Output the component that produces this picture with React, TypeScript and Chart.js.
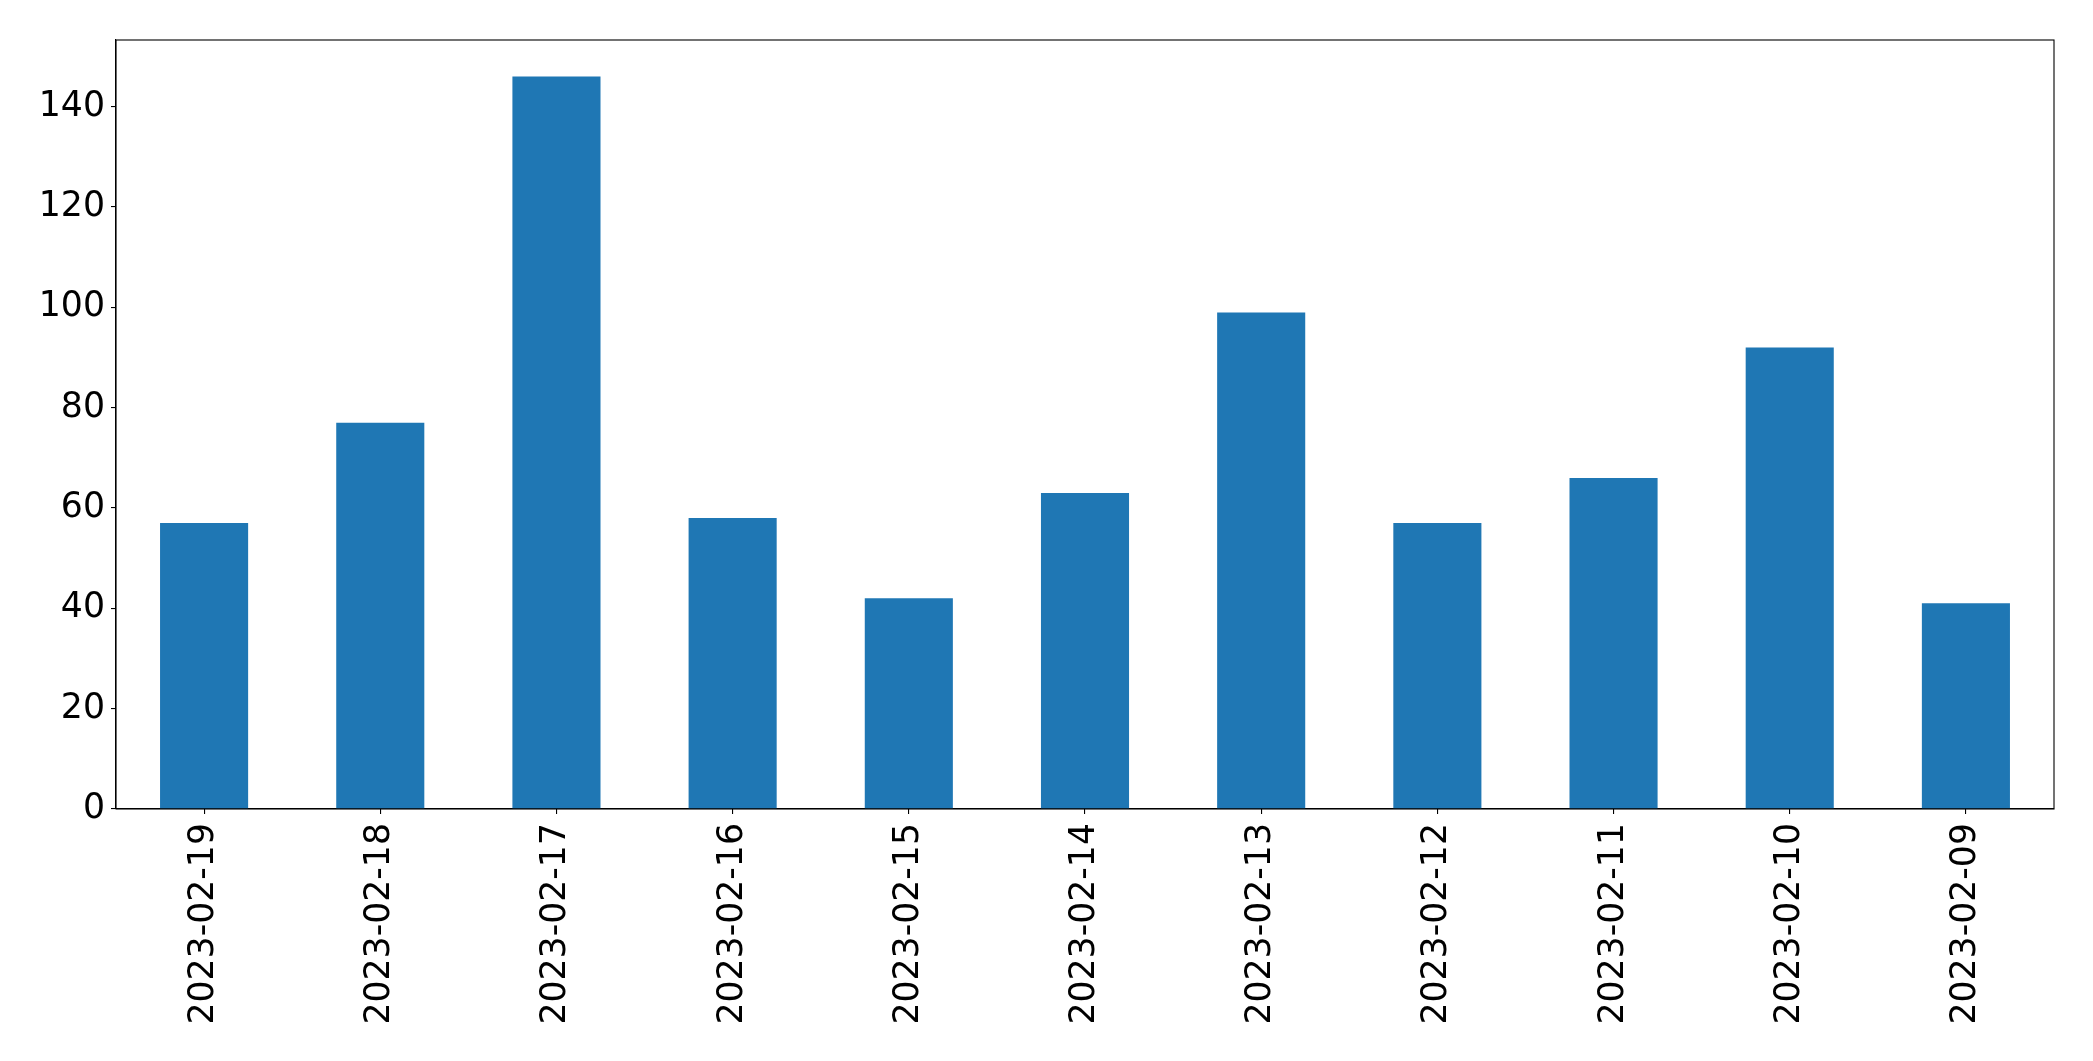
import React, { useEffect, useRef } from "react";
import { Chart, registerables } from "chart.js";

Chart.register(...registerables);

const categories: string[] = [
  "2023-02-19",
  "2023-02-18",
  "2023-02-17",
  "2023-02-16",
  "2023-02-15",
  "2023-02-14",
  "2023-02-13",
  "2023-02-12",
  "2023-02-11",
  "2023-02-10",
  "2023-02-09",
];

const counts: number[] = [57, 77, 146, 58, 42, 63, 99, 57, 66, 92, 41];

const yTickStep = 20;
const yMax = 153.3;

const W = 2093;
const H = 1061;

const framePlugin = {
  id: "frame",
  afterDraw(chart: any) {
    const { ctx, chartArea } = chart;
    ctx.save();
    ctx.strokeStyle = "#000000";
    ctx.lineWidth = 1.1;
    ctx.strokeRect(
      chartArea.left,
      chartArea.top,
      chartArea.right - chartArea.left,
      chartArea.bottom - chartArea.top
    );
    ctx.restore();
  },
};

export default function App() {
  const ref = useRef<HTMLCanvasElement | null>(null);

  useEffect(() => {
    if (!ref.current) return;
    const font = { family: "'DejaVu Sans', sans-serif", size: 34.7 };
    const chart = new Chart(ref.current, {
      type: "bar",
      data: {
        labels: categories,
        datasets: [
          {
            data: counts,
            backgroundColor: "#1f77b4",
            borderWidth: 0,
            categoryPercentage: 1.0,
            barPercentage: 0.5,
          },
        ],
      },
      options: {
        responsive: false,
        animation: false,
        devicePixelRatio: 1,
        layout: { padding: { left: 0, top: 40, right: 39, bottom: 0 } },
        plugins: {
          legend: { display: false },
          tooltip: { enabled: false },
        },
        scales: {
          x: {
            offset: true,
            grid: {
              display: true,
              offset: false,
              drawOnChartArea: false,
              drawTicks: true,
              tickLength: 5,
              color: "#000000",
              lineWidth: 1.1,
            },
            border: { display: true, color: "#000000", width: 1.1 },
            ticks: {
              autoSkip: false,
              maxRotation: 90,
              minRotation: 90,
              padding: 9,
              color: "#000000",
              font,
            },
            afterFit(scale: any) {
              scale.height = 252;
            },
          },
          y: {
            min: 0,
            max: yMax,
            grid: {
              display: true,
              drawOnChartArea: false,
              drawTicks: true,
              tickLength: 5,
              color: "#000000",
              lineWidth: 1.1,
            },
            border: { display: true, color: "#000000", width: 1.1 },
            ticks: {
              stepSize: yTickStep,
              padding: 6,
              color: "#000000",
              font,
            },
            afterBuildTicks(scale: any) {
              scale.ticks = scale.ticks.filter(
                (t: any) => Math.abs(t.value % yTickStep) < 1e-9
              );
            },
            afterFit(scale: any) {
              scale.width = 116;
            },
          },
        },
      },
      plugins: [framePlugin],
    });
    return () => chart.destroy();
  }, []);

  return (
    <div
      style={{
        position: "absolute",
        left: 0,
        top: 0,
        width: W,
        height: H,
        background: "#ffffff",
      }}
    >
      <canvas
        ref={ref}
        width={W}
        height={H}
        style={{ display: "block", width: W, height: H }}
      />
    </div>
  );
}
